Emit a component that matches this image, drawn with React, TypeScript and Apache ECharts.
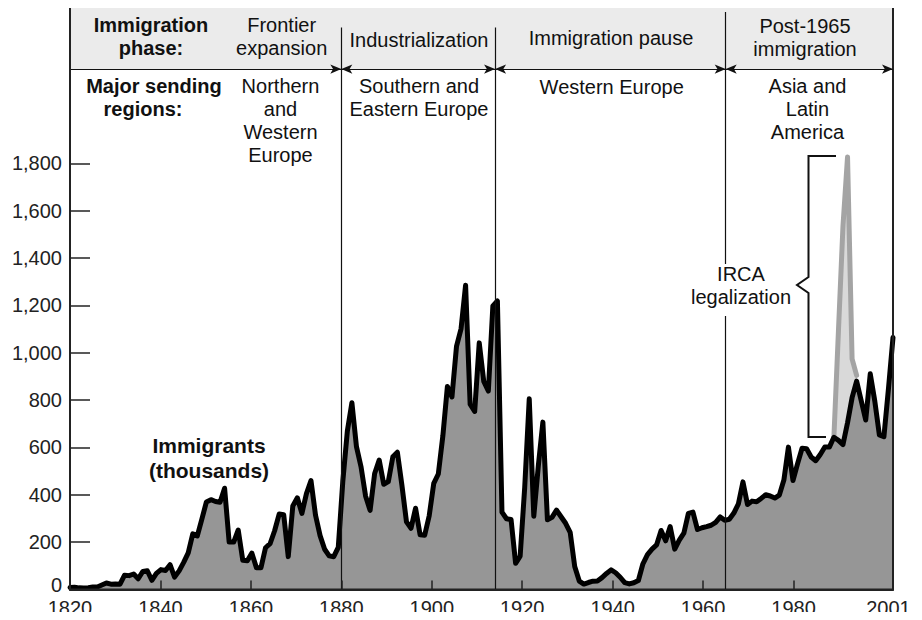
import React, { useEffect, useRef } from "react";
import * as echarts from "echarts";

// ---- Data (thousands of immigrants per year, 1820–2001) ----
const startYear = 1820;
const immigrants: number[] = [
  // 1820s
  8.4, 9.1, 6.9, 6.4, 7.9, 10.2, 10.8, 18.9, 27.4, 22.5,
  // 1830s
  23.3, 22.6, 60.5, 58.6, 65.4, 45.4, 76.2, 79.3, 38.9, 68.1,
  // 1840s
  84.1, 80.3, 104.6, 52.5, 78.6, 114.4, 154.4, 235.0, 226.5, 297.0,
  // 1850s
  370.0, 379.5, 371.6, 368.6, 427.8, 200.9, 200.4, 251.3, 123.1, 121.3,
  // 1860s
  153.6, 91.9, 92.0, 176.3, 193.4, 248.1, 318.6, 315.7, 138.8, 352.8,
  // 1870s
  387.2, 321.4, 404.8, 460.0, 313.3, 227.5, 170.0, 141.9, 138.5, 177.8,
  // 1880s
  457.3, 669.4, 789.0, 603.3, 518.6, 395.3, 334.2, 490.1, 546.9, 444.4,
  // 1890s
  455.3, 560.3, 579.7, 440.0, 285.6, 258.5, 343.3, 230.8, 229.3, 311.7,
  // 1900s
  448.6, 487.9, 648.7, 857.0, 812.9, 1026.5, 1100.7, 1285.3, 782.9, 751.8,
  // 1910s
  1041.6, 878.6, 838.2, 1197.9, 1218.5, 326.7, 298.8, 295.4, 110.6, 141.1,
  // 1920s
  430.0, 805.2, 309.6, 522.9, 706.9, 294.3, 304.5, 335.2, 307.3, 279.7,
  // 1930s
  241.7, 97.1, 35.6, 23.1, 29.5, 35.0, 36.3, 50.2, 67.9, 83.0,
  // 1940s
  70.8, 51.8, 28.8, 23.7, 28.6, 38.1, 108.7, 147.3, 170.6, 188.3,
  // 1950s
  249.2, 205.7, 265.5, 170.4, 208.2, 237.8, 321.6, 326.9, 253.3, 260.7,
  // 1960s
  265.4, 271.3, 283.8, 306.3, 292.2, 296.7, 323.0, 362.0, 454.4, 358.6,
  // 1970s
  373.3, 370.5, 384.7, 400.1, 394.9, 386.2, 398.6, 462.3, 601.4, 460.3,
  // 1980s
  530.6, 596.6, 594.1, 559.8, 543.9, 570.0, 601.7, 601.5, 643.0, 630.0,
  // 1990s
  612.0, 704.0, 810.0, 880.0, 798.0, 716.0, 911.0, 795.0, 653.0, 645.0,
  // 2000s
  848.0, 1064.0,
];
const years: number[] = immigrants.map((_, i) => startYear + i);

// Totals including IRCA legalizations
const ircaYears = [1988, 1989, 1990, 1991, 1992, 1993];
const ircaTotals = [643.0, 1091.0, 1536.0, 1827.0, 974.0, 904.0];

const yLabelValues = [0, 200, 400, 600, 800, 1000, 1200, 1400, 1600, 1800];
const yTickValues = [200, 400, 600, 800, 1000, 1200, 1400, 1600, 1800];
const xLabelYears = [1820, 1840, 1860, 1880, 1900, 1920, 1940, 1960, 1980, 2001];
const xTickYears = [1840, 1860, 1880, 1900, 1920, 1940, 1960, 1980];
const phaseBounds = [1880, 1914, 1965];

const FONT = "'Liberation Sans', Arial, Helvetica, sans-serif";
const HEADER_Y = 2198; // header divider level (in y data units)
const Y_MAX = 2477;
const LH = 23; // line height for 20px text

// centred (multi-line) text block; centerY = visual middle of the block
function block(text: string, x: number, centerY: number, lineHeight = LH, size = 20, bold = false) {
  const n = text.split("\n").length;
  return {
    type: "text",
    z: 100,
    silent: true,
    style: {
      text,
      x,
      y: centerY - (n * lineHeight) / 2,
      fill: "#111",
      font: `${bold ? "bold " : ""}${size}px ${FONT}`,
      lineHeight,
      textAlign: "center",
      textVerticalAlign: "top",
    },
  };
}

export default function App() {
  const ref = useRef<HTMLDivElement>(null);

  useEffect(() => {
    if (!ref.current) return;
    const chart = echarts.init(ref.current, null, { renderer: "svg" });

    const arrowLine = (a: number, b: number, leftArrow: boolean, rightArrow: boolean) => [
      { coord: [a, HEADER_Y], symbol: leftArrow ? "arrow" : "none", symbolSize: [7, 11] },
      { coord: [b, HEADER_Y], symbol: rightArrow ? "arrow" : "none", symbolSize: [7, 11] },
    ];

    const option: any = {
      animation: false,
      backgroundColor: "#ffffff",
      grid: {
        left: 70,
        right: 29,
        top: 3,
        bottom: 30.5,
        show: true,
        borderColor: "#222",
        borderWidth: 2,
        backgroundColor: "transparent",
        z: 5,
      },
      xAxis: [
        {
          type: "value",
          min: 1820,
          max: 2002,
          interval: 20,
          z: 5,
          axisLine: { show: true, lineStyle: { color: "#222", width: 2 } },
          axisTick: {
            show: true,
            inside: true,
            length: 9,
            customValues: xTickYears,
            lineStyle: { color: "#222", width: 1.5 },
          },
          axisLabel: {
            show: true,
            customValues: xLabelYears,
            margin: 8,
            color: "#222",
            fontSize: 20,
            fontFamily: FONT,
            formatter: (v: number) => String(v),
          },
          splitLine: { show: false },
        },
        {
          type: "value",
          min: 1820,
          max: 2001,
          show: false,
          splitLine: { show: false },
        },
      ],
      yAxis: {
        type: "value",
        min: 0,
        max: Y_MAX,
        interval: 200,
        z: 5,
        axisLine: { show: true, lineStyle: { color: "#222", width: 2 } },
        axisTick: {
          show: true,
          inside: true,
          length: 20,
          customValues: yTickValues,
          lineStyle: { color: "#222", width: 1.5 },
        },
        axisLabel: {
          show: true,
          customValues: yLabelValues,
          margin: 8,
          color: "#222",
          fontSize: 20,
          fontFamily: FONT,
          formatter: (v: number) => (v === 0 ? "{zero|0}" : v.toLocaleString("en-US")),
          rich: {
            zero: {
              fontSize: 20,
              fontFamily: FONT,
              color: "#222",
              padding: [0, 0, 9, 0],
            },
          },
        },
        splitLine: { show: false },
      },
      series: [
        {
          name: "header",
          type: "line",
          xAxisIndex: 0,
          z: 0,
          data: [[1820, 0]],
          showSymbol: false,
          silent: true,
          lineStyle: { opacity: 0 },
          markArea: {
            silent: true,
            itemStyle: { color: "#ebebeb" },
            data: [[{ coord: [1820, HEADER_Y] }, { coord: [2002, Y_MAX] }]],
          },
        },
        {
          name: "phases",
          type: "line",
          xAxisIndex: 0,
          z: 1,
          data: [[1820, 0]],
          showSymbol: false,
          silent: true,
          lineStyle: { opacity: 0 },
          markLine: {
            silent: true,
            symbol: ["none", "none"],
            label: { show: false },
            lineStyle: { color: "#111", width: 1.2, type: "solid" },
            emphasis: { disabled: true },
            data: [
              [{ coord: [phaseBounds[0], 2374] }, { coord: [phaseBounds[0], 0] }],
              [{ coord: [phaseBounds[1], 2374] }, { coord: [phaseBounds[1], 0] }],
              [{ coord: [phaseBounds[2], 2439] }, { coord: [phaseBounds[2], 0] }],
              arrowLine(1820, phaseBounds[0], false, true),
              arrowLine(phaseBounds[0], phaseBounds[1], true, true),
              arrowLine(phaseBounds[1], phaseBounds[2], true, true),
              arrowLine(phaseBounds[2], 2002, true, true),
            ],
          },
        },
        {
          name: "Including IRCA legalization",
          type: "line",
          xAxisIndex: 1,
          z: 2,
          data: ircaYears.map((y, i) => [y, ircaTotals[i]]),
          showSymbol: false,
          silent: true,
          lineStyle: { color: "#a4a4a4", width: 5, join: "round", cap: "round" },
          areaStyle: { color: "#d9d9d9", opacity: 1 },
        },
        {
          name: "Immigrants",
          type: "line",
          xAxisIndex: 1,
          z: 3,
          data: years.map((y, i) => [y, immigrants[i]]),
          showSymbol: false,
          silent: true,
          lineStyle: { color: "#000", width: 5, join: "round", cap: "round" },
          areaStyle: { color: "#969696", opacity: 1 },
        },
      ],
      graphic: [
        // header row 1
        block("Immigration\nphase:", 151, 36, LH, 20, true),
        block("Frontier\nexpansion", 281.7, 36),
        block("Industrialization", 419, 40),
        block("Immigration pause", 611, 38),
        block("Post-1965\nimmigration", 805, 37),
        // header row 2
        block("Major sending", 154, 86, LH, 20, true),
        block("regions:", 143, 109, LH, 20, true),
        block("Northern\nand\nWestern\nEurope", 280.5, 86 + 1.5 * LH),
        block("Southern and\nEastern Europe", 419, 86 + 0.5 * LH),
        block("Western Europe", 611.7, 87),
        block("Asia and\nLatin\nAmerica", 807.5, 86 + LH),
        // IRCA annotation
        {
          type: "rect",
          z: 99,
          silent: true,
          shape: { x: 688, y: 264, width: 104, height: 52 },
          style: { fill: "#ffffff" },
        },
        block("IRCA\nlegalization", 741, 285),
        {
          type: "polyline",
          z: 100,
          silent: true,
          shape: {
            points: [
              [836, 156],
              [808.5, 156],
              [808.5, 277],
              [797, 285],
              [808.5, 293],
              [808.5, 437],
              [826, 437],
            ],
          },
          style: { stroke: "#111", lineWidth: 2, fill: "none" },
        },
        // series label
        block("Immigrants\n(thousands)", 209, 458, 24.5, 21, true),
      ],
    };

    chart.setOption(option);
    return () => chart.dispose();
  }, []);

  return <div ref={ref} style={{ width: 922, height: 620, margin: -8 }} />;
}
